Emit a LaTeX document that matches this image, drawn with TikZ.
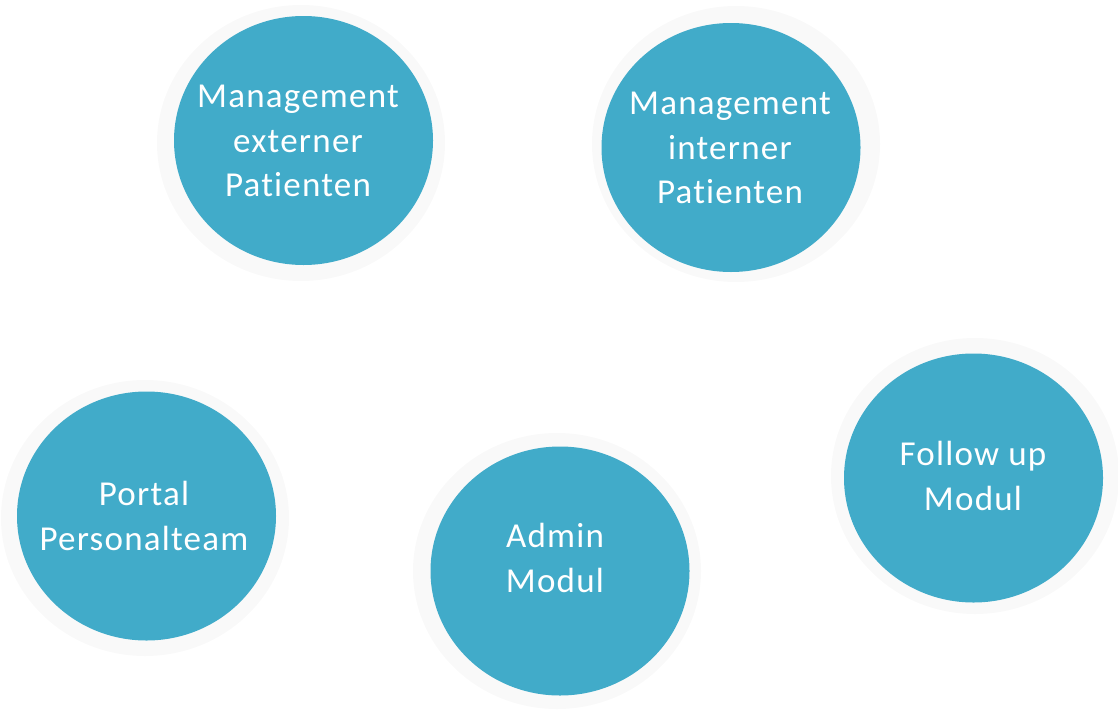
\documentclass[tikz,border=0pt]{standalone}
\usepackage{fontspec}
\setmainfont[Ligatures=NoCommon,LetterSpace=3.5]{Carlito}
\usetikzlibrary{shapes.geometric}
\definecolor{disc}{HTML}{41ABC9}
\definecolor{halo}{HTML}{F9F9F9}
\tikzset{
  disc/.style={ellipse, fill=disc, draw=none, minimum width=259pt, minimum height=249pt, inner sep=0pt},
  halo/.style={ellipse, fill=halo, draw=none, minimum width=288pt, minimum height=276pt, inner sep=0pt},
  lbl/.style={text=white, align=center, font=\fontsize{35}{44.5}\selectfont, inner sep=0pt}
}
\begin{document}
\begin{tikzpicture}[x=1pt,y=-1pt]
\useasboundingbox (0,0) rectangle (1118,712);
% halos
\node[halo] (h1) at (301,143) {};
\node[halo] (h2) at (736,144) {};
\node[halo] (h3) at (145,518) {};
\node[halo] (h4) at (557,571) {};
\node[halo] (h5) at (975,476) {};
% discs
\node[disc] (c1) at (303.5,140.5) {};
\node[disc] (c2) at (731,147.5) {};
\node[disc] (c3) at (146.5,516) {};
\node[disc] (c4) at (560,571) {};
\node[disc] (c5) at (973.5,478) {};
% labels
\node[lbl] (t1) at (298,141) {Management\\externer\\Patienten};
\node[lbl] (t2) at (730,148) {Management\\interner\\Patienten};
\node[lbl] (t3) at (144,516) {Portal\\Personalteam};
\node[lbl] (t4) at (555,558) {Admin\\Modul};
\node[lbl] (t5) at (973,476) {Follow up\\Modul};
\end{tikzpicture}
\end{document}
